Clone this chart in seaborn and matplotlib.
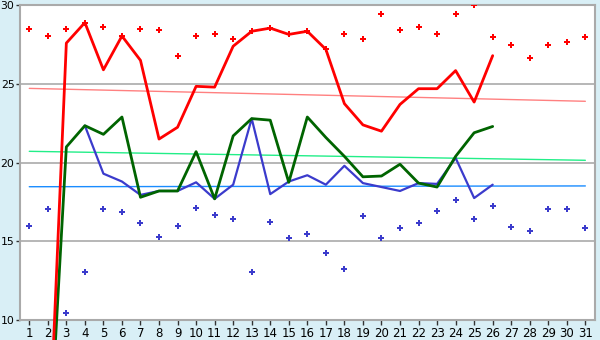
import numpy as np
import pandas as pd
import matplotlib
matplotlib.use('Agg')
import matplotlib.pyplot as plt
import seaborn as sns

# Days 1..31
days = list(range(1, 32))

# Upper scatter (red) and lower scatter (blue), one value per day
red_points = [28.5, 28.05, 28.5, 28.9, 28.6, 28.05, 28.5, 28.4, 26.75, 28.05,
              28.2, 27.85, 28.35, 28.55, 28.15, 28.35, 27.2, 28.2, 27.85, 29.45,
              28.4, 28.6, 28.15, 29.45, 30.0, 28.0, 27.45, 26.65, 27.5, 27.65, 28.0]
blue_points = [16.0, 17.05, 10.45, 13.05, 17.05, 16.85, 16.15, 15.3, 16.0, 17.1,
               16.7, 16.4, 13.05, 16.2, 15.2, 15.45, 14.25, 13.25, 16.6, 15.2,
               15.85, 16.15, 16.9, 17.6, 16.4, 17.25, 15.9, 15.65, 17.05, 17.05, 15.85]

# Line series (days 2..26 for red/green, 4..26 for blue)
line_days = list(range(2, 27))
red_line = [0.0, 27.6, 28.9, 25.9, 28.05, 26.5, 21.5, 22.25, 24.85, 24.8,
            27.4, 28.35, 28.55, 28.15, 28.35, 27.2, 23.75, 22.4, 22.0, 23.7,
            24.7, 24.7, 25.85, 23.85, 26.8]
green_line = [0.0, 21.0, 22.35, 21.8, 22.9, 17.8, 18.2, 18.2, 20.7, 17.7,
              21.7, 22.8, 22.7, 18.75, 22.9, 21.6, 20.4, 19.1, 19.15, 19.9,
              18.7, 18.45, 20.4, 21.9, 22.3]
blue_days = list(range(4, 27))
blue_line = [22.35, 19.3, 18.8, 17.95, 18.2, 18.2, 18.75, 17.7, 18.6, 22.8,
             18.0, 18.8, 19.2, 18.6, 19.8, 18.7, 18.45, 18.2, 18.7, 18.65,
             20.3, 17.75, 18.6]

# Trend lines (start at day 1, end at day 31)
trend_days = [1, 31]
red_trend = [24.72, 23.9]
green_trend = [20.72, 20.15]
blue_trend = [18.47, 18.52]

sns.set_style('white')
plt.rcParams['font.family'] = ['DejaVu Sans']

fig = plt.figure(figsize=(6, 3.4), dpi=100, facecolor='#d9eff6')
ax = fig.add_axes([20 / 600, 20 / 340, 575 / 600, 314.7 / 340])
ax.set_facecolor('white')

# horizontal grid
for gy in [15, 20, 25]:
    ax.axhline(gy, color='#aaaaaa', lw=1.2, zorder=1)

sns.lineplot(x=trend_days, y=red_trend, color='#ff8080', lw=1, ax=ax, zorder=2)
sns.lineplot(x=trend_days, y=green_trend, color='#22ee88', lw=1, ax=ax, zorder=2)
sns.lineplot(x=trend_days, y=blue_trend, color='#1a8cff', lw=1, ax=ax, zorder=2)

sns.lineplot(x=blue_days, y=blue_line, color='#3b3bcc', lw=1.6, ax=ax, zorder=3)
sns.lineplot(x=line_days, y=green_line, color='#006400', lw=2, ax=ax, zorder=4)
sns.lineplot(x=line_days, y=red_line, color='#ff0000', lw=2, ax=ax, zorder=5)
for ln in ax.lines:
    ln.set_clip_on(False)

sns.scatterplot(x=days, y=red_points, color='#ff0000', marker='P', s=20,
                linewidth=0, ax=ax, zorder=6)
sns.scatterplot(x=days, y=blue_points, color='#3b3bcc', marker='P', s=20,
                linewidth=0, ax=ax, zorder=6)

ax.set_xlim(0.5, 31.52)
ax.set_ylim(10, 30)
ax.set_xticks(days)
ax.set_yticks([10, 15, 20, 25, 30])
ax.tick_params(axis='both', which='both', length=3.5, width=1, color='#333333',
               pad=1.5, labelcolor='black', direction='out')
ax.tick_params(axis='x', labelsize=8.5)
ax.tick_params(axis='y', labelsize=7.8, length=3, pad=1)
ax.tick_params(left=True, bottom=True)
for side in ['top', 'right', 'left', 'bottom']:
    ax.spines[side].set_color('#aaaaaa')
    ax.spines[side].set_linewidth(1.5)

plt.savefig('out.png', dpi=100, facecolor=fig.get_facecolor())
